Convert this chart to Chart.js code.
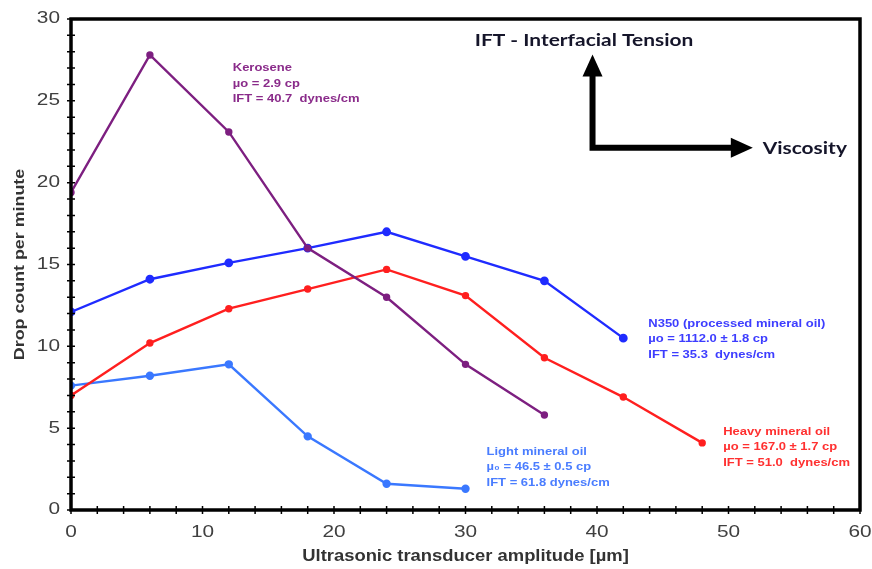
<!DOCTYPE html>
<html>
<head>
<meta charset="utf-8">
<script src="https://cdn.jsdelivr.net/npm/chart.js@4.4.1/dist/chart.umd.min.js"></script>
<style>
  html, body { margin: 0; padding: 0; background: #fff; }
  #wrap { width: 872px; height: 569px; }
</style>
</head>
<body>
<div id="wrap"><canvas id="dropChart"></canvas></div>
<script>
// Transducer amplitude steps (µm)
const amplitude = [0, 6, 12, 18, 24, 30, 36, 42, 48];

// Drop count per minute for each oil
const kerosene = [19.4, 27.8, 23.1, 16.0, 13.0, 8.9, 5.8];
const n350 = [12.1, 14.1, 15.1, 16.0, 17.0, 15.5, 14.0, 10.5];
const heavyOil = [7.0, 10.2, 12.3, 13.5, 14.7, 13.1, 9.3, 6.9, 4.1];
const lightOil = [7.6, 8.2, 8.9, 4.5, 1.6, 1.3];

const xTicks = [0, 10, 20, 30, 40, 50, 60];
const yTicks = [0, 5, 10, 15, 20, 25, 30];
const xTitle = 'Ultrasonic transducer amplitude [µm]';
const yTitle = 'Drop count per minute';

// Property notes placed next to each curve (data coordinates)
const notes = [
  { x: 12.3, y: 27.0, color: '#8a2b8a', lines: ['Kerosene', 'µo = 2.9 cp', 'IFT = 40.7  dynes/cm'] },
  { x: 43.9, y: 11.4, color: '#3d3dff', lines: ['N350 (processed mineral oil)', 'µo = 1112.0 ± 1.8 cp', 'IFT = 35.3  dynes/cm'] },
  { x: 49.6, y: 4.8, color: '#ff3030', lines: ['Heavy mineral oil', 'µo = 167.0 ± 1.7 cp', 'IFT = 51.0  dynes/cm'] },
  { x: 31.6, y: 3.57, color: '#4a7dff', lines: ['Light mineral oil', 'µ₀ = 46.5 ± 0.5 cp', 'IFT = 61.8 dynes/cm'] }
];

const SANS = '"Liberation Sans", Arial, sans-serif';

const toPoints = (vals) => vals.map((v, i) => ({ x: amplitude[i], y: v }));

function series(label, vals, color, radius) {
  return {
    label: label,
    data: toPoints(vals),
    borderColor: color,
    backgroundColor: color,
    borderWidth: 2.4,
    pointRadius: radius,
    pointHoverRadius: radius,
    tension: 0
  };
}

// text with a bit of horizontal stretch (the lettering is wide)
function wideText(ctx, text, x, y, align, sx) {
  ctx.save();
  ctx.translate(x, y);
  ctx.scale(sx, 1);
  ctx.textAlign = align;
  ctx.fillText(text, 0, 0);
  ctx.restore();
}

// Frame, ticks, labels, notes and the IFT/viscosity arrows
const decorPlugin = {
  id: 'decor',
  afterDatasetsDraw(chart) {
    const { ctx, chartArea: a, scales: { x, y } } = chart;
    ctx.save();

    // minor/major ticks crossing the axes
    ctx.strokeStyle = '#000';
    ctx.lineWidth = 1.5;
    ctx.beginPath();
    for (let v = 0; v <= 30; v++) {
      const py = y.getPixelForValue(v);
      ctx.moveTo(a.left - 4, py);
      ctx.lineTo(a.left + 4, py);
    }
    for (let v = 0; v <= 60; v += 2) {
      const px = x.getPixelForValue(v);
      ctx.moveTo(px, a.bottom - 4);
      ctx.lineTo(px, a.bottom + 4);
    }
    ctx.stroke();

    ctx.lineWidth = 3.5;
    ctx.strokeRect(a.left, a.top, a.right - a.left, a.bottom - a.top);

    // tick labels
    ctx.textBaseline = 'middle';
    ctx.fillStyle = '#404040';
    ctx.font = '16px ' + SANS;
    yTicks.forEach(v => wideText(ctx, String(v), a.left - 11, y.getPixelForValue(v), 'right', 1.3));
    xTicks.forEach(v => wideText(ctx, String(v), x.getPixelForValue(v), a.bottom + 23, 'center', 1.3));

    // axis titles
    ctx.fillStyle = '#333';
    ctx.font = 'bold 16px ' + SANS;
    wideText(ctx, xTitle, (a.left + a.right) / 2, a.bottom + 47, 'center', 1.15);
    ctx.save();
    ctx.translate(20, (a.top + a.bottom) / 2);
    ctx.rotate(-Math.PI / 2);
    ctx.font = 'bold 15px ' + SANS;
    wideText(ctx, yTitle, 0, 0, 'center', 1.19);
    ctx.restore();

    // notes
    ctx.font = 'bold 11.5px ' + SANS;
    notes.forEach(n => {
      ctx.fillStyle = n.color;
      const px = x.getPixelForValue(n.x);
      const py = y.getPixelForValue(n.y);
      n.lines.forEach((t, i) => wideText(ctx, t, px, py + i * 15.5, 'left', 1.13));
    });

    // IFT / viscosity arrows
    const cx = x.getPixelForValue(39.66);
    const cy = y.getPixelForValue(22.14);
    const topY = y.getPixelForValue(27.83);
    const tipX = x.getPixelForValue(51.85);
    ctx.fillStyle = '#000';
    ctx.lineWidth = 6;
    ctx.lineJoin = 'miter';
    ctx.beginPath();
    ctx.moveTo(cx, topY + 20);
    ctx.lineTo(cx, cy);
    ctx.lineTo(tipX - 20, cy);
    ctx.stroke();
    ctx.beginPath();
    ctx.moveTo(cx, topY);
    ctx.lineTo(cx - 10, topY + 22);
    ctx.lineTo(cx + 10, topY + 22);
    ctx.closePath();
    ctx.fill();
    ctx.beginPath();
    ctx.moveTo(tipX, cy);
    ctx.lineTo(tipX - 22, cy - 10);
    ctx.lineTo(tipX - 22, cy + 10);
    ctx.closePath();
    ctx.fill();

    ctx.font = 'bold 17px Lato, "Open Sans", sans-serif';
    ctx.fillStyle = '#15152a';
    wideText(ctx, 'IFT - Interfacial Tension', x.getPixelForValue(30.7), y.getPixelForValue(28.7), 'left', 1.23);
    wideText(ctx, 'Viscosity', x.getPixelForValue(52.6), y.getPixelForValue(22.1), 'left', 1.23);

    ctx.restore();
  }
};

const ctx = document.getElementById('dropChart').getContext('2d');
new Chart(ctx, {
  type: 'line',
  data: {
    datasets: [
      series('Kerosene', kerosene, '#7d1f80', 2.5),
      series('N350 (processed mineral oil)', n350, '#1f2bff', 3.2),
      series('Heavy mineral oil', heavyOil, '#ff1f1f', 2.5),
      series('Light mineral oil', lightOil, '#3a78ff', 3)
    ]
  },
  options: {
    responsive: true,
    maintainAspectRatio: false,
    animation: false,
    layout: { padding: { top: 19, right: 12, left: 0, bottom: 0 } },
    plugins: {
      legend: { display: false },
      tooltip: { enabled: false }
    },
    scales: {
      x: {
        type: 'linear',
        min: 0,
        max: 60,
        afterFit: (s) => { s.height = 59; },
        grid: { display: false },
        border: { display: false },
        ticks: { display: false }
      },
      y: {
        min: 0,
        max: 30,
        afterFit: (s) => { s.width = 71; },
        grid: { display: false },
        border: { display: false },
        ticks: { display: false }
      }
    }
  },
  plugins: [decorPlugin]
});
</script>
</body>
</html>
